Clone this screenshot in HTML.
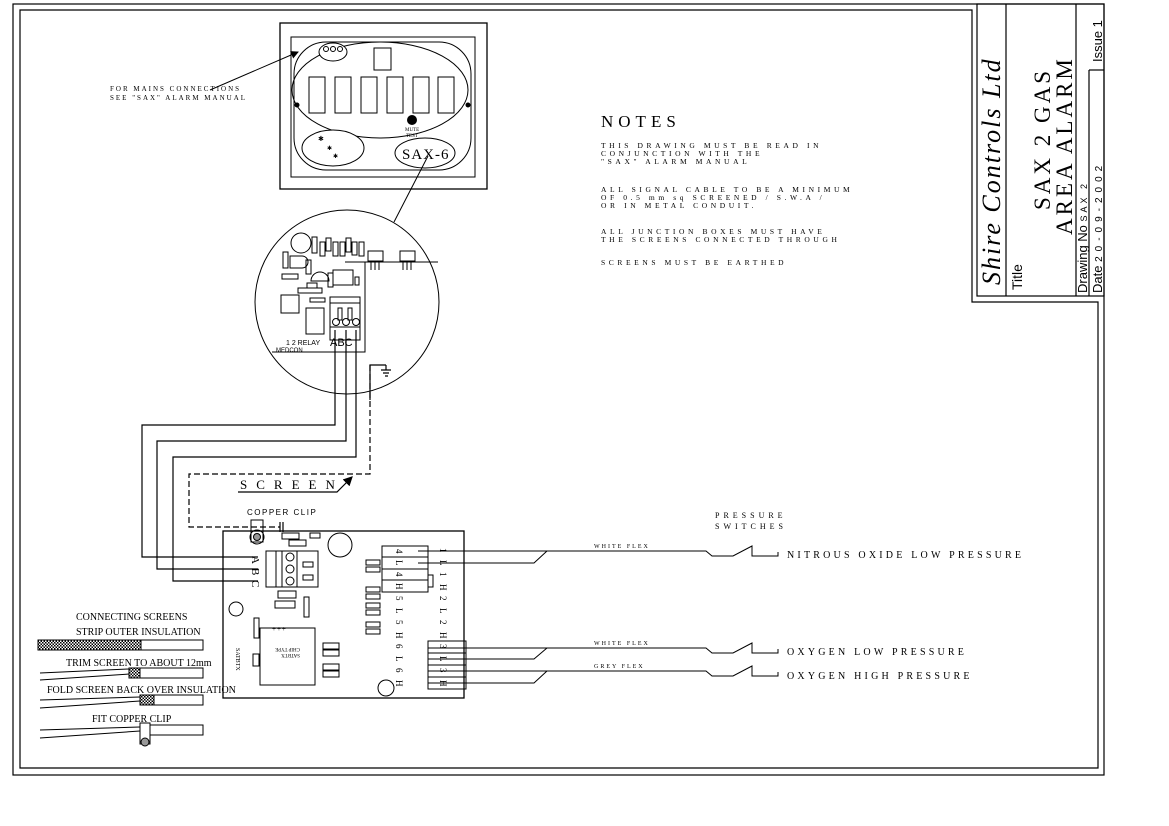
<!DOCTYPE html>
<html><head><meta charset="utf-8"><style>
html,body{margin:0;padding:0;background:#fff}
svg{display:block}
text{font-family:"Liberation Serif",serif;fill:#000}
.s{font-family:"Liberation Sans",sans-serif}
</style></head><body>
<svg width="1169" height="826" viewBox="0 0 1169 826" xmlns="http://www.w3.org/2000/svg">
<defs>
<pattern id="ck" width="3" height="3" patternUnits="userSpaceOnUse"><rect width="3" height="3" fill="#fff"/><rect width="1.5" height="1.5" fill="#000"/><rect x="1.5" y="1.5" width="1.5" height="1.5" fill="#000"/></pattern>
<marker id="ah" markerWidth="8" markerHeight="8" refX="7" refY="4" orient="auto"><path d="M0,0 L8,4 L0,8Z" fill="#000"/></marker>
</defs>
<g fill="none" stroke="#000" stroke-width="1.2">
<rect x="13" y="4" width="1091" height="771"/>
<path d="M20,10 H972 V302 H1098 V768 H20 Z"/>
<rect x="977" y="4" width="127" height="292"/>
<line x1="1006" y1="4" x2="1006" y2="296"/>
<line x1="1076" y1="4" x2="1076" y2="296"/>
<line x1="1089" y1="70" x2="1089" y2="296"/>
<line x1="1089" y1="70" x2="1104" y2="70"/>
</g>
<g font-family="Liberation Serif">
<text transform="translate(1000,285) rotate(-90)" font-size="26" font-style="italic" letter-spacing="2">Shire Controls Ltd</text>
<text class="s" transform="translate(1022,290) rotate(-90)" font-size="14">Title</text>
<text transform="translate(1050,210) rotate(-90)" font-size="23" letter-spacing="3">SAX 2 GAS</text>
<text transform="translate(1072,235) rotate(-90)" font-size="23" letter-spacing="3">AREA ALARM</text>
<text class="s" transform="translate(1087,293) rotate(-90)" font-size="13">Drawing No  <tspan font-size="9" letter-spacing="3">SAX 2</tspan></text>
<text class="s" transform="translate(1102,293) rotate(-90)" font-size="13">Date <tspan font-size="10" letter-spacing="5">20-09-2002</tspan></text>
<text class="s" transform="translate(1102,62) rotate(-90)" font-size="13">Issue 1</text>
</g>

<g font-size="7.5" letter-spacing="3.6">
<text x="601" y="127" font-size="17" letter-spacing="5">NOTES</text>
<text x="601" y="148">THIS DRAWING MUST BE READ IN</text>
<text x="601" y="156">CONJUNCTION WITH THE</text>
<text x="601" y="164">"SAX" ALARM MANUAL</text>
<text x="601" y="192">ALL SIGNAL CABLE TO BE A MINIMUM</text>
<text x="601" y="200">OF 0.5 mm sq SCREENED / S.W.A /</text>
<text x="601" y="208">OR IN METAL CONDUIT.</text>
<text x="601" y="234">ALL JUNCTION BOXES MUST HAVE</text>
<text x="601" y="242">THE SCREENS CONNECTED THROUGH</text>
<text x="601" y="265">SCREENS MUST BE EARTHED</text>
</g>

<g fill="none" stroke="#000" stroke-width="1">
<rect x="280" y="23" width="207" height="166" stroke-width="1.3"/>
<rect x="291" y="37" width="184" height="140"/>
<rect x="294" y="42" width="177" height="128" rx="32"/>
<ellipse cx="380" cy="90" rx="88" ry="48"/>
<ellipse cx="333" cy="52" rx="14" ry="9" fill="#fff"/>
<circle cx="326" cy="49" r="2.5"/><circle cx="333" cy="49" r="2.5"/><circle cx="340" cy="49" r="2.5"/>
<rect x="374" y="48" width="17" height="22"/>
<rect x="309" y="77" width="16" height="36"/><rect x="335" y="77" width="16" height="36"/><rect x="361" y="77" width="16" height="36"/>
<rect x="387" y="77" width="16" height="36"/><rect x="413" y="77" width="16" height="36"/><rect x="438" y="77" width="16" height="36"/>
<circle cx="297" cy="105" r="2" fill="#000"/><circle cx="468" cy="105" r="2" fill="#000"/>
<ellipse cx="333" cy="148" rx="31" ry="18" fill="#fff"/>
<ellipse cx="425" cy="153" rx="30" ry="15" fill="#fff"/>
<line x1="428" y1="156" x2="394" y2="222"/>
<line x1="210" y1="90" x2="298" y2="52" marker-end="url(#ah)"/>
</g>
<circle cx="412" cy="120" r="5"/>
<text x="405" y="131" font-size="5">MUTE</text><text x="406" y="137" font-size="5">TEST</text>
<text x="318" y="141" font-size="7">✱</text><text x="327" y="150" font-size="6">✱</text><text x="333" y="158" font-size="6">✱</text>
<text x="402" y="159" font-size="15" letter-spacing="1">SAX-6</text>
<text x="110" y="91" font-size="7" letter-spacing="2">FOR MAINS CONNECTIONS</text>
<text x="110" y="100" font-size="7" letter-spacing="2">SEE "SAX" ALARM MANUAL</text>

<g fill="none" stroke="#000" stroke-width="1">
<circle cx="347" cy="302" r="92"/>
<path d="M345,262 H438 M365,262 V352 H272"/>
<circle cx="301" cy="243" r="10"/>
<rect x="312" y="237" width="5" height="16"/><rect x="320" y="242" width="5" height="14"/><rect x="326" y="238" width="5" height="13"/><rect x="333" y="242" width="5" height="14"/><rect x="340" y="242" width="5" height="14"/><rect x="346" y="238" width="5" height="14"/><rect x="352" y="242" width="5" height="13"/><rect x="359" y="242" width="5" height="14"/>
<rect x="283" y="252" width="5" height="16"/><path d="M290,256 h12 a6,6 0 0 1 0,12 h-12z"/><rect x="306" y="260" width="5" height="14"/>
<path d="M311,281 a9,9 0 0 1 18,0z"/><rect x="328" y="273" width="5" height="14"/>
<rect x="333" y="270" width="20" height="15"/><rect x="355" y="277" width="4" height="8"/>
<rect x="282" y="274" width="16" height="5"/><rect x="307" y="283" width="10" height="5"/><rect x="298" y="288" width="24" height="5"/>
<rect x="281" y="295" width="18" height="18"/>
<rect x="310" y="298" width="15" height="4"/><rect x="306" y="308" width="18" height="26"/>
<rect x="330" y="297" width="30" height="43"/><line x1="330" y1="303" x2="360" y2="303"/><line x1="330" y1="327" x2="360" y2="327"/>
<rect x="338" y="308" width="4" height="12"/><rect x="348" y="308" width="4" height="12"/>
<circle cx="336" cy="322" r="3.5"/><circle cx="346" cy="322" r="3.5"/><circle cx="356" cy="322" r="3.5"/>
<rect x="368" y="251" width="15" height="10"/><rect x="400" y="251" width="15" height="10"/>
<path d="M371,262v8M375,262v8M379,262v8M403,262v8M407,262v8M411,262v8"/>
</g>
<text class="s" x="286" y="345" font-size="7">1 2 RELAY</text>
<text class="s" x="276" y="352" font-size="6">MEDCON</text>
<text class="s" x="330" y="346" font-size="11">ABC</text>

<g fill="none" stroke="#000" stroke-width="1.2">
<path d="M335,330 V425 H142 V557 H258"/>
<path d="M346,330 V441 H157 V569 H258"/>
<path d="M356,330 V457 H173 V581 H258"/>
<path d="M370,400 V365 H386 M386,365 V370 M381,370 H391 M383,373 H389 M385,376 H388" />
<path d="M370,365 V474 H189 V527 H280" stroke-dasharray="6,3"/>
<path d="M280,522 V532 M283,522 V532"/>
<path d="M238,492 H337 L352,477" marker-end="url(#ah)"/>
</g>
<text x="240" y="489" font-size="13" letter-spacing="9">SCREEN</text>
<text class="s" x="247" y="515" font-size="8" letter-spacing="1.5">COPPER CLIP</text>

<g fill="none" stroke="#000" stroke-width="1">
<rect x="223" y="531" width="241" height="167" stroke-width="1.3"/>
<rect x="251" y="520" width="12" height="22"/><circle cx="257" cy="537" r="7"/><circle cx="257" cy="537" r="3.5" fill="#999"/>
<rect x="282" y="533" width="17" height="6"/><rect x="289" y="540" width="17" height="6"/><rect x="310" y="533" width="10" height="5"/>
<circle cx="340" cy="545" r="12"/>
<rect x="266" y="551" width="52" height="36"/><line x1="276" y1="551" x2="276" y2="587"/><line x1="282" y1="551" x2="282" y2="587"/><line x1="297" y1="551" x2="297" y2="587"/>
<circle cx="290" cy="557" r="4"/><circle cx="290" cy="569" r="4"/><circle cx="290" cy="581" r="4"/>
<rect x="303" y="562" width="10" height="5"/><rect x="303" y="575" width="10" height="5"/>
<circle cx="236" cy="609" r="7"/>
<rect x="278" y="591" width="18" height="7"/><rect x="275" y="601" width="20" height="7"/><rect x="304" y="597" width="5" height="20"/>
<rect x="254" y="618" width="5" height="20"/>
<rect x="260" y="628" width="55" height="57"/>
<rect x="253" y="654" width="6" height="12"/>
<rect x="323" y="643" width="16" height="6"/><rect x="323" y="650" width="16" height="6"/><rect x="323" y="664" width="16" height="6"/><rect x="323" y="671" width="16" height="6"/>
<rect x="366" y="560" width="14" height="5"/><rect x="366" y="567" width="14" height="5"/><rect x="366" y="587" width="14" height="5"/><rect x="366" y="594" width="14" height="5"/><rect x="366" y="603" width="14" height="5"/><rect x="366" y="610" width="14" height="5"/><rect x="366" y="622" width="14" height="5"/><rect x="366" y="629" width="14" height="5"/>
<rect x="382" y="546" width="46" height="46"/><line x1="382" y1="557" x2="428" y2="557"/><line x1="382" y1="569" x2="428" y2="569"/><line x1="382" y1="580" x2="428" y2="580"/>
<path d="M428,575 H433 V587 H428"/>
<rect x="428" y="641" width="38" height="48"/><line x1="428" y1="653" x2="466" y2="653"/><line x1="428" y1="665" x2="466" y2="665"/><line x1="428" y1="677" x2="466" y2="677"/>
<circle cx="386" cy="688" r="8"/>
</g>
<g class="s" font-size="9">
<text transform="translate(252,556) rotate(90)" font-size="11">A</text>
<text transform="translate(252,568) rotate(90)" font-size="11">B</text>
<text transform="translate(252,580) rotate(90)" font-size="11">C</text>
<text transform="translate(396,549) rotate(90)">4</text><text transform="translate(396,560) rotate(90)">L</text><text transform="translate(396,572) rotate(90)">4</text><text transform="translate(396,583) rotate(90)">H</text>
<text transform="translate(396,596) rotate(90)">5</text><text transform="translate(396,608) rotate(90)">L</text><text transform="translate(396,620) rotate(90)">5</text><text transform="translate(396,632) rotate(90)">H</text>
<text transform="translate(396,644) rotate(90)">6</text><text transform="translate(396,656) rotate(90)">L</text><text transform="translate(396,668) rotate(90)">6</text><text transform="translate(396,680) rotate(90)">H</text>
<text transform="translate(440,548) rotate(90)">1</text><text transform="translate(440,560) rotate(90)">L</text><text transform="translate(440,572) rotate(90)">1</text><text transform="translate(440,584) rotate(90)">H</text>
<text transform="translate(440,596) rotate(90)">2</text><text transform="translate(440,608) rotate(90)">L</text><text transform="translate(440,620) rotate(90)">2</text><text transform="translate(440,632) rotate(90)">H</text>
<text transform="translate(440,644) rotate(90)">3</text><text transform="translate(440,656) rotate(90)">L</text><text transform="translate(440,668) rotate(90)">3</text><text transform="translate(440,680) rotate(90)">H</text>
<text x="272" y="631" font-size="7" letter-spacing="1">+++</text>
<text transform="translate(300,648) rotate(180)" font-size="5">CHIP TYPE</text>
<text transform="translate(300,654) rotate(180)" font-size="5">SATBTX</text>
<text transform="translate(236,648) rotate(90)" font-size="6">SATBTX</text>
</g>

<g fill="none" stroke="#000" stroke-width="1">
<path d="M418,551 H706 L712,556 H733 L752,546 V556 H778 V552"/>
<path d="M418,563 H534 L547,551"/>
<path d="M428,648 H706 L712,653 H733 L752,643 V653 H778 V649"/>
<path d="M428,659 H534 L547,648"/>
<path d="M428,671 H706 L712,676 H733 L752,666 V676 H778 V672"/>
<path d="M428,683 H534 L547,671"/>
</g>
<g font-size="8" letter-spacing="2">
<text x="594" y="548" font-size="6">WHITE FLEX</text>
<text x="594" y="645" font-size="6">WHITE FLEX</text>
<text x="594" y="668" font-size="6">GREY FLEX</text>
<text x="715" y="518" letter-spacing="4">PRESSURE</text>
<text x="715" y="529" letter-spacing="4">SWITCHES</text>
<text x="787" y="558" font-size="10" letter-spacing="3.2">NITROUS OXIDE LOW PRESSURE</text>
<text x="787" y="655" font-size="10" letter-spacing="3.2">OXYGEN LOW PRESSURE</text>
<text x="787" y="679" font-size="10" letter-spacing="3.2">OXYGEN HIGH PRESSURE</text>
</g>

<g font-size="10">
<text x="76" y="620">CONNECTING SCREENS</text>
<text x="76" y="635">STRIP OUTER INSULATION</text>
<text x="66" y="666">TRIM SCREEN TO ABOUT 12mm</text>
<text x="47" y="693">FOLD SCREEN BACK OVER INSULATION</text>
<text x="92" y="722">FIT COPPER CLIP</text>
</g>
<g fill="none" stroke="#000" stroke-width="1">
<rect x="38" y="640" width="103" height="10" fill="url(#ck)"/><rect x="141" y="640" width="62" height="10"/>
<path d="M40,673 L129,669 M40,680 L129,674"/><rect x="129" y="668" width="11" height="10" fill="url(#ck)"/><rect x="140" y="668" width="63" height="10"/>
<path d="M40,700 L140,697 M40,708 L140,701"/><rect x="140" y="695" width="14" height="10" fill="url(#ck)"/><rect x="154" y="695" width="49" height="10"/>
<path d="M40,730 L140,727 M40,738 L140,731"/><rect x="142" y="725" width="8" height="10" fill="url(#ck)"/><rect x="150" y="725" width="53" height="10"/>
<rect x="140" y="723" width="10" height="21" fill="#fff"/><circle cx="145" cy="742" r="4" fill="#999"/>
</g>
</svg>
</body></html>
